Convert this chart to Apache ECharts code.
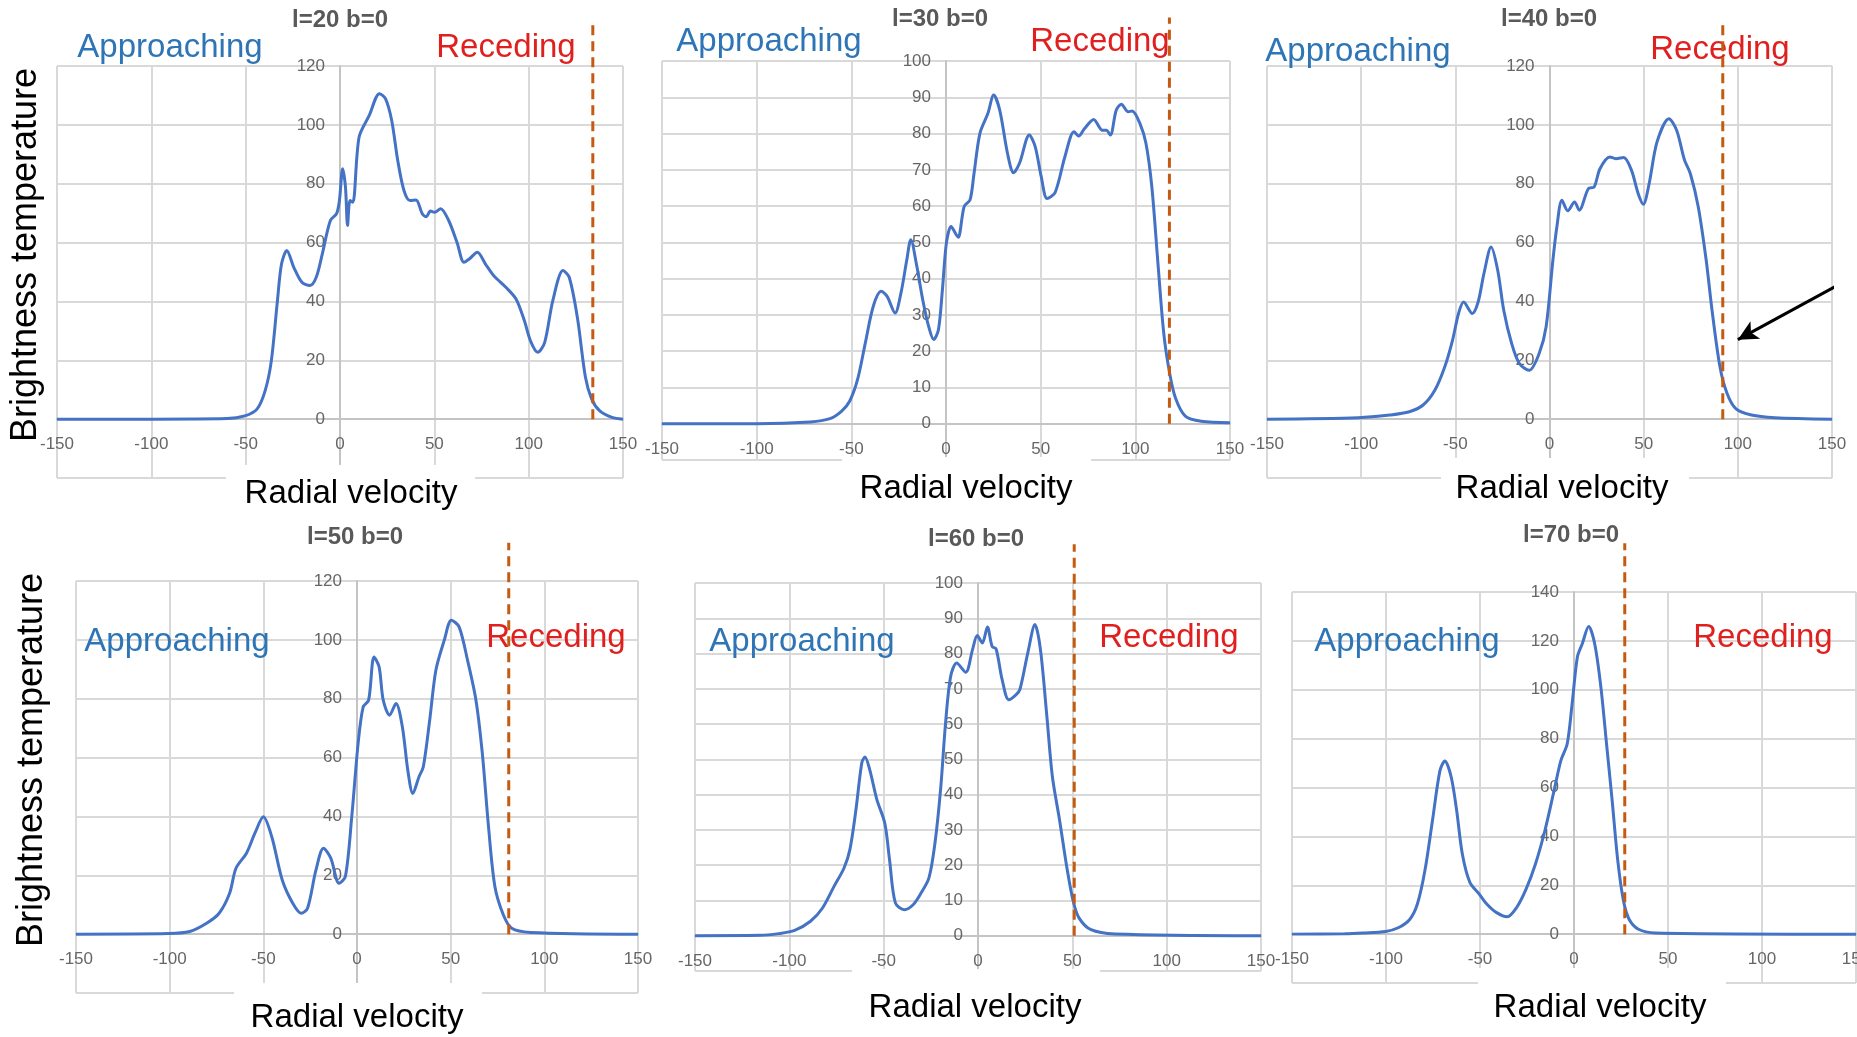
<!DOCTYPE html>
<html>
<head>
<meta charset="utf-8">
<title>Brightness temperature profiles</title>
<script src="https://cdn.jsdelivr.net/npm/echarts@6/dist/echarts.min.js"></script>
<style>
html, body { margin: 0; padding: 0; background: #fff; }
#main { width: 1857px; height: 1037px; }
</style>
</head>
<body>
<div id="main"></div>
<script>
// [radial velocity, brightness temperature]
var l20 = [[-150,0],[-100,0],[-60,0.2],[-50.5,1.1],[-44,3.4],[-39.7,9.6],[-36.4,19.8],[-33.2,40],[-31,52.7],[-28.2,57.3],
  [-24.5,51.6],[-20.2,46.5],[-15.9,45.4],[-12.6,48.2],[-9.4,56.1],[-5.1,67.5],[-1.8,69.8],[-0.3,74.3],[1.4,85.1],[2.9,78.8],
  [4.0,65.8],[5.3,74.3],[6.8,73.7],[10.1,95.8],[15.5,103.2],[20.9,110.6],[24.1,108.9],[27.4,101.5],[30.6,87.9],[33.9,77.7],
  [37.1,74.3],[40.3,74.5],[43.6,69.8],[45.8,68.8],[47.9,70.7],[50.1,70.3],[53.3,71.5],[57.6,67.5],[62,60.1],[65.7,53.3],
  [68.5,54.4],[72.8,56.7],[77.1,52.7],[81.4,48.8],[87.9,44.8],[93.3,40.8],[97.7,33.5],[100.9,26.7],[104.8,22.7],[108.5,26.1],
  [112.8,40.3],[118.2,50.5],[121.5,48.2],[125.8,34.6],[130.1,14.2],[133.4,6.8],[137.7,2.8],[144.2,0.6],[150,0]];
var l30 = [[-150,0],[-100,0],[-71.8,0.5],[-61.3,1.4],[-55.1,3.5],[-50.9,6.2],[-46.7,12.2],[-42.6,22.3],[-38.4,32.4],[-34.2,36.5],
  [-31.1,35.1],[-26.9,30.5],[-23.8,36],[-20.7,45.2],[-18.6,50.7],[-15.4,43.4],[-12.3,34.2],[-9.2,26.9],[-6.5,23.2],[-4,25.9],
  [-1.9,36.9],[0.2,49.8],[2.7,54.4],[5.4,52.1],[6.5,51.4],[9.6,59.9],[12.7,61.7],[14.8,69],[17.9,80],[22.1,85.5],
  [25.2,90.6],[28.4,86.4],[32.5,74.5],[35.7,69.2],[38.8,71.8],[44,79.6],[47.1,76.4],[50.3,68.1],[53.4,62.1],[57.6,63.7],
  [62.8,73.6],[67.6,80.5],[70.1,79.3],[73.2,81.4],[78,83.9],[82.6,80.9],[84.7,80.9],[86.8,79.6],[89.9,86.4],[92.6,88.1],
  [96.2,86],[98.3,86.2],[102.4,82.8],[105.6,77.3],[108.7,65.4],[111.8,45.2],[115,25],[118.1,14],[121.2,7.1],[126.4,2.1],
  [134.8,0.7],[150,0.3]];
var l40 = [[-150,0],[-101.6,0.5],[-84.9,1.4],[-74.4,2.5],[-67.1,4.8],[-60.9,9.8],[-55.6,17.8],[-51.5,26.8],[-48.3,35.9],[-45.6,39.8],
  [-41,35.9],[-37.9,39.8],[-34.8,49.5],[-31,58.5],[-27.5,50.6],[-24.3,37],[-20.1,25.7],[-16,18.9],[-10.8,16.6],[-5.5,22.3],
  [-1.8,31.4],[1.8,54],[3.9,65.3],[6.6,74.4],[9.7,70.8],[13.3,73.8],[15.8,71],[20.6,78.3],[23.7,78.9],[26.8,85.1],
  [32,89.1],[35.2,88.5],[39.4,88.9],[43.5,84.6],[47.1,76.6],[49.8,73],[52.9,80],[57.1,94.2],[63.4,102.1],[67.5,98.2],
  [71.7,88],[74.8,83.4],[79,72.1],[83.2,54],[86.3,37],[90.5,17.8],[94.3,8.7],[98.9,3.6],[107.2,1.4],[119.7,0.5],[150,0]];
var l50 = [[-150,0],[-100.6,0.2],[-89.3,0.9],[-80.3,3.7],[-73.6,7.1],[-68,13.9],[-64.6,22.4],[-59,27.5],[-54.5,34.3],[-50,39.9],
  [-45.5,33.1],[-39.9,18.4],[-34.3,10.5],[-29.8,7.1],[-26.4,8.8],[-21.9,21.8],[-17.9,29.2],[-14,25.8],[-9.6,17.3],[-6.2,19.6],
  [-2.8,39.9],[0.6,64.8],[3.3,77.2],[6.2,79.5],[9.1,94.2],[11.8,90.8],[14,79.5],[17.4,74.4],[20.8,78.4],[24.2,70.5],
  [27.1,55.8],[29.8,47.8],[33.1,53.5],[35.4,56.9],[38.8,72.7],[42.1,89.7],[46.6,99.9],[50.4,106.7],[54.5,104.4],[59,93.1],
  [63.5,79.5],[66.9,61.4],[70.2,36.5],[73.6,16.2],[78.1,6.6],[82.6,2],[92.7,0.6],[150,0]];
var l60 = [[-150,0],[-116,0.1],[-105.6,0.6],[-97.2,1.5],[-88.8,4.1],[-82.5,7.8],[-76.3,14],[-71,19.2],[-67.9,24.4],[-64.7,35.7],
  [-61.6,49],[-59.9,50.7],[-57.4,47.1],[-53.6,38.6],[-49.4,31.9],[-46.9,21.6],[-43.8,9.3],[-39,7.4],[-34.4,8.8],[-30.2,12.1],
  [-26,16.4],[-22.8,26.3],[-19.7,42.3],[-17.2,60.3],[-14.5,73.5],[-11.3,77.3],[-6.5,74.7],[-2.9,81.1],[-0.4,85.1],[2.3,83],
  [5,87.5],[7.5,82],[9.6,81.3],[12.8,72.6],[16.3,66.9],[20.1,68.3],[22.2,69.8],[26.4,80.2],[30.2,88.2],[33.1,81.1],
  [36.5,62.2],[39.4,45.2],[43.2,32.9],[47.3,18.7],[50.5,9.7],[53.6,5],[59.9,1.7],[72.5,0.5],[150,0]];
var l70 = [[-150,0],[-122,0.2],[-112.2,0.5],[-100.2,1.1],[-93.2,2.7],[-87.3,6.1],[-83.3,12.3],[-79.3,26],[-75.3,46.4],[-71.3,66.9],
  [-68.7,70.8],[-65.3,64.2],[-62.4,50.5],[-59.4,32.8],[-55.4,21.2],[-50.4,16.4],[-46.4,12.3],[-41.4,8.9],[-35.5,7.1],[-30.5,10.9],
  [-25.5,18.4],[-20.5,28.7],[-15.5,42.3],[-10.6,58.7],[-7,71],[-3.6,77.9],[-1,94.2],[1.8,113.4],[4.4,118.8],[7.8,125.9],
  [11,118.8],[14.3,101.1],[17.3,77.9],[20.3,54.6],[23.3,30],[26.3,13.7],[29.3,6.1],[34.3,2],[43.2,0.5],[150,0]];

var panelNames = ['l=20 b=0', 'l=30 b=0', 'l=40 b=0', 'l=50 b=0', 'l=60 b=0', 'l=70 b=0'];
var profiles = [l20, l30, l40, l50, l60, l70];
var cutoffVel = [134, 118, 92, 81, 51, 27];     // dashed line, km/s
var cutoffTop = [134, 112, 134, 133, 111, 160]; // dashed line runs above the plot
var yMin = [-20, -10, -20, -20, -10, -20];
var yMax = [120, 100, 120, 120, 100, 140];
var yStep = [20, 10, 20, 20, 10, 20];
var velMin = -150, velMax = 150, velStep = 50;
var arrowPts = [[163, 49], [100, 27]];           // arrow in the l=40 panel

// panel boxes in pixels
var boxes = [
  {left: 57, top: 66, width: 566, height: 412},
  {left: 662, top: 61, width: 568, height: 399},
  {left: 1267, top: 66, width: 565, height: 412},
  {left: 76, top: 581, width: 562, height: 412},
  {left: 695, top: 583, width: 566, height: 388},
  {left: 1292, top: 592, width: 564, height: 391}
];
// text spots: title, approaching, receding, x-axis title, white box [x0, x1, y0, y1]
var spots = [
  {t: [340, 20], a: [170, 48], r: [506, 48], x: [351, 494], box: [226, 475, 465, 525]},
  {t: [940, 19], a: [769, 42], r: [1100, 42], x: [966, 489], box: [842, 1091, 457, 520]},
  {t: [1549, 19], a: [1358, 52], r: [1720, 50], x: [1562, 489], box: [1441, 1689, 458, 520]},
  {t: [355, 537], a: [177, 642], r: [556, 638], x: [357, 1018], box: [234, 482, 983, 1037]},
  {t: [976, 539], a: [802, 642], r: [1169, 638], x: [975, 1008], box: [852, 1100, 969, 1037]},
  {t: [1571, 535], a: [1407, 642], r: [1763, 638], x: [1600, 1008], box: [1478, 1726, 968, 1037]}
];

var FONT = '"Liberation Sans", Arial, sans-serif';
var grids = [], xAxes = [], yAxes = [], series = [], graphics = [];

for (var i = 0; i < 6; i++) {
  var b = boxes[i];
  // axes cross at zero (velocity 0, temperature 0), as in the spreadsheet
  var xShift = -(0 - yMin[i]) / (yMax[i] - yMin[i]) * b.height;
  var yShift = -(0 - velMin) / (velMax - velMin) * b.width;
  grids.push({left: b.left, top: b.top, width: b.width, height: b.height, outerBoundsMode: 'none'});
  xAxes.push({
    type: 'value', gridIndex: i, min: velMin, max: velMax, interval: velStep,
    position: 'bottom', offset: xShift,
    axisLine: {show: true, onZero: false, lineStyle: {color: '#c4c4c4', width: 2}},
    axisTick: {show: false},
    axisLabel: {color: '#666', fontSize: 17, fontFamily: FONT, margin: 17},
    splitLine: {show: true, lineStyle: {color: '#d9d9d9', width: 2}}
  });
  yAxes.push({
    type: 'value', gridIndex: i, min: yMin[i], max: yMax[i], interval: yStep[i],
    position: 'left', offset: yShift,
    axisLine: {show: true, onZero: false, lineStyle: {color: '#c4c4c4', width: 2}},
    axisTick: {show: false},
    axisLabel: {color: '#666', fontSize: 17, fontFamily: FONT, margin: 15,
      formatter: function (v) { return v < 0 ? '' : v; }},
    splitLine: {show: true, lineStyle: {color: '#d9d9d9', width: 2}}
  });
  series.push({
    type: 'line', xAxisIndex: i, yAxisIndex: i, data: profiles[i],
    smooth: 0.3, symbol: 'none', z: 3,
    lineStyle: {color: '#4472c4', width: 3}
  });
  series.push({
    type: 'line', xAxisIndex: i, yAxisIndex: i, clip: false, symbol: 'none', z: 6,
    data: [[cutoffVel[i], 0], [cutoffVel[i], cutoffTop[i]]],
    lineStyle: {color: '#c55a11', width: 3, type: [10, 6]}
  });

  var s = spots[i];
  graphics.push({type: 'rect', z: 1, shape: {x: s.box[0], y: s.box[2], width: s.box[1] - s.box[0], height: s.box[3] - s.box[2]},
    style: {fill: '#fff'}});
  graphics.push({type: 'text', z: 2, x: s.x[0], y: s.x[1], style: {text: 'Radial velocity', fill: '#000',
    font: '33px ' + FONT, textAlign: 'center', textVerticalAlign: 'middle'}});
  graphics.push({type: 'text', z: 2, x: s.t[0], y: s.t[1], style: {text: panelNames[i], fill: '#595959',
    font: 'bold 24px ' + FONT, textAlign: 'center', textVerticalAlign: 'middle'}});
  graphics.push({type: 'text', z: 2, x: s.a[0], y: s.a[1], style: {text: 'Approaching', fill: '#2e75b6',
    font: '33px ' + FONT, textAlign: 'center', textVerticalAlign: 'middle'}});
  graphics.push({type: 'text', z: 2, x: s.r[0], y: s.r[1], style: {text: 'Receding', fill: '#e0201e',
    font: '33px ' + FONT, textAlign: 'center', textVerticalAlign: 'middle'}});
}

// arrow pointing at the l=40 cut-off
series.push({
  type: 'line', xAxisIndex: 2, yAxisIndex: 2, clip: false, z: 7,
  data: [{value: arrowPts[0], symbol: 'none'},
         {value: arrowPts[1], symbol: 'arrow', symbolSize: [15, 20], symbolRotate: 119}],
  lineStyle: {color: '#000', width: 3}, itemStyle: {color: '#000'}
});

[[26, 255], [32, 760]].forEach(function (p) {
  graphics.push({type: 'text', z: 2, x: p[0], y: p[1], rotation: Math.PI / 2,
    style: {text: 'Brightness temperature', fill: '#000', font: '36px ' + FONT,
      textAlign: 'center', textVerticalAlign: 'middle'}});
});

var chart = echarts.init(document.getElementById('main'));
chart.setOption({
  backgroundColor: '#fff',
  animation: false,
  grid: grids,
  xAxis: xAxes,
  yAxis: yAxes,
  series: series,
  graphic: {elements: graphics}
});
</script>
</body>
</html>
